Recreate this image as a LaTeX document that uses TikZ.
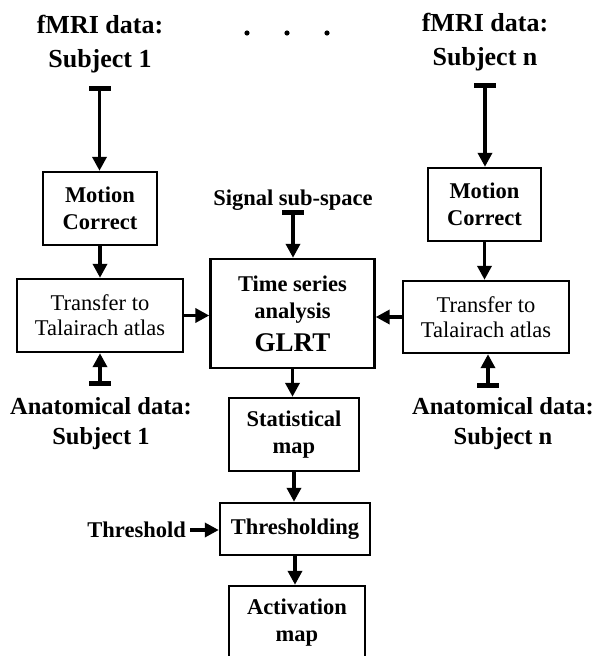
\documentclass[tikz,border=0pt]{standalone}
\usepackage{fontspec}
\setmainfont{Liberation Serif}
\usetikzlibrary{arrows.meta}

\tikzset{
  blocco/.style={draw, line width=2.4pt, align=center, inner sep=0pt,
    font=\fontsize{22.5}{27}\selectfont\bfseries},
  freccia/.style={line width=3.8pt, -{Triangle[length=14pt,width=14pt]}},
  ingresso/.style={line width=3.8pt,
    {Rectangle[length=5pt,width=22pt]}-{Triangle[length=14pt,width=14pt]}},
  dati/.style={align=center, inner sep=0pt, font=\fontsize{26}{34}\selectfont\bfseries},
  anat/.style={align=center, inner sep=0pt, font=\fontsize{24.5}{30}\selectfont\bfseries},
}

\begin{document}
\begin{tikzpicture}[x=1pt, y=-1pt]
\useasboundingbox (0,0) rectangle (594,656);
\clip (0,0) rectangle (594,656);

% Dati dei soggetti
\node[dati] (fmri1) at (100,44) {fMRI data:\\Subject 1};
\node[dati] (fmrin) at (485,42) {fMRI data:\\Subject n};
\fill (247,33) circle (2.6) (287,33) circle (2.6) (327,33) circle (2.6);

% Blocchi
\node[blocco, minimum width=114, minimum height=73] (mc1) at (100,208.5) {Motion\\Correct};
\node[blocco, minimum width=113, minimum height=73] (mcn) at (484.5,204.5) {Motion\\Correct};
\node[blocco, minimum width=166, minimum height=73,
  font=\fontsize{22.5}{25}\selectfont] (tt1) at (100,315.5) {Transfer to\\Talairach atlas};
\node[blocco, minimum width=166, minimum height=72,
  font=\fontsize{22.5}{25}\selectfont] (ttn) at (486,317) {Transfer to\\Talairach atlas};
\node[blocco, minimum width=164, minimum height=109] (tsa) at (292.5,313.5)
  {Time series\\analysis\\[6pt]{\fontsize{27}{32}\selectfont GLRT}};
\node[blocco, minimum width=130, minimum height=73] (stat) at (294,434.5) {Statistical\\map};
\node[blocco, minimum width=150, minimum height=52] (thr) at (295,529) {Thresholding};
\node[blocco, minimum width=136, minimum height=73] (act) at (297,622.5) {Activation\\map};

% Ingressi
\node[blocco, draw=none] (sig) at (293,200.5) {Signal sub-space};
\node[blocco, draw=none, anchor=east, inner sep=3pt] (soglia) at (190,530) {Threshold};
\node[anat] (anat1) at (101,424) {Anatomical data:\\Subject 1};
\node[anat] (anatn) at (503,424) {Anatomical data:\\Subject n};

\coordinate (in1) at (99.5,86);
\coordinate (inn) at (485,83);
\coordinate (insig) at (293,209.5);
\coordinate (inan1) at (100,386);
\coordinate (inann) at (488,388);

% Frecce
\draw[ingresso] (in1) -- (in1 |- mc1.north);
\draw[ingresso] (inn) -- (inn |- mcn.north);
\draw[ingresso] (insig) -- (insig |- tsa.north);
\draw[ingresso] (inan1) -- (inan1 |- tt1.south);
\draw[ingresso] (inann) -- (inann |- ttn.south);

\draw[freccia] (mc1.south) -- (mc1.south |- tt1.north);
\draw[freccia] (mcn.south) -- (mcn.south |- ttn.north);
\draw[freccia] (tt1.east) -- (tt1.east -| tsa.west);
\draw[freccia] (ttn.west) -- (ttn.west -| tsa.east);
\draw[freccia] (tsa.south) -- (tsa.south |- stat.north);
\draw[freccia] (stat.south) -- (stat.south |- thr.north);
\draw[freccia] (soglia.east) -- (soglia.east -| thr.west);
\draw[freccia] (thr.south) -- (thr.south |- act.north);
\end{tikzpicture}
\end{document}
